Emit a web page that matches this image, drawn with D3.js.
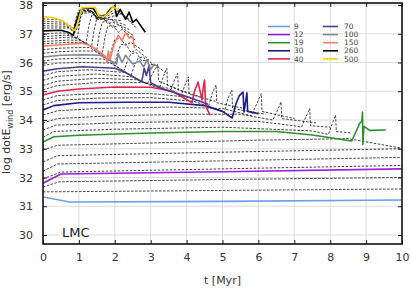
<!DOCTYPE html>
<html>
<head>
<meta charset="utf-8">
<script src="https://cdn.jsdelivr.net/npm/d3@7"></script>
<style>
  html, body { margin: 0; padding: 0; background: #fff; }
  svg { display: block; font-family: "DejaVu Sans", sans-serif; }
</style>
</head>
<body>
<script>
const W = 411, H = 288;
const FRAME = { left: 43, right: 402, top: 3, bottom: 244 };

const xTicks = [0, 1, 2, 3, 4, 5, 6, 7, 8, 9, 10];
const yTicks = [30, 31, 32, 33, 34, 35, 36, 37, 38];

const legendMasses = [9, 12, 19, 30, 40, 70, 100, 150, 260, 500];
const legendColours = ["#6d9eea", "#9b1fdc", "#2f8f2f", "#1b1b8a", "#e0244e",
                       "#4a3f8e", "#7a8898", "#f47f66", "#000000", "#f5d000"];

// coloured tracks: [t (Myr), log dotE_wind]
const track9 = [[0,31.32],[0.75,31.15],[5,31.17],[10,31.22]];
const track12 = [[0,31.8],[0.5,32.12],[5,32.2],[10,32.3]];
const track19 = [[0,33.23],[0.3,33.42],[1,33.47],[3,33.55],[5,33.6],[6.5,33.6],[7.5,33.48],[8.6,33.27],
  [8.72,33.6],[8.82,33.88],[8.88,33.95],[8.9,34.28],[8.91,33.15],[8.94,33.78],[9.1,33.64],[9.55,33.65]];
const track30 = [[0,34.35],[0.3,34.5],[1,34.6],[2.4,34.62],[3.5,34.62],[4.5,34.5],[5.0,34.3],[5.27,34.07],
  [5.37,34.55],[5.47,34.85],[5.57,34.97],[5.6,34.28],[5.68,34.95],[5.7,34.3],[6.0,34.22]];
const track40 = [[0,34.87],[0.4,35.0],[1,35.08],[2,35.15],[3,35.14],[3.6,35.0],[4.15,34.6],[4.22,35.0],
  [4.32,35.32],[4.43,34.7],[4.46,35.1],[4.5,35.39],[4.53,34.5],[4.65,34.17]];
const track70 = [[0,35.7],[0.4,35.78],[1.1,35.85],[2.0,35.8],[2.3,35.65],[2.75,35.33],[2.82,35.8],[2.88,35.55],
  [2.95,35.88],[3.0,35.3],[3.3,35.1],[4.0,34.82],[4.6,34.55]];
const track100 = [[0,36.19],[0.5,36.25],[1.1,36.27],[1.6,36.25],[2.05,35.95],[2.1,36.3],[2.2,36.0],[2.3,36.25],
  [2.5,35.95],[2.7,36.05],[2.8,35.85],[2.9,36.1],[3.0,35.75],[3.1,35.95]];
const track150 = [[0,36.57],[0.5,36.62],[1.1,36.67],[1.35,36.57],[1.75,36.2],[1.78,36.0],[1.82,36.4],[1.87,36.1],
  [1.97,36.6],[2.1,36.95],[2.2,36.75],[2.3,37.05],[2.4,36.85],[2.5,36.9],[2.55,36.5]];
const track260 = [[0,37.1],[0.5,37.12],[0.7,37.05],[0.85,36.95],[0.9,37.3],[1.0,37.7],[1.1,37.9],[1.4,37.88],
  [1.55,37.6],[1.75,37.65],[1.9,37.9],[2.0,37.97],[2.05,37.6],[2.15,37.85],[2.3,37.5],[2.4,37.75],[2.5,37.4],[2.6,37.5],[2.85,37.05]];
const track500 = [[0,37.6],[0.3,37.55],[0.55,37.45],[0.88,37.12],[0.95,37.3],[1.08,37.9],[1.45,37.92],[1.55,37.62],
  [1.7,37.6],[1.85,37.75],[1.95,37.97],[2.05,37.85],[2.1,37.9]];
const colouredTracks = [track9, track12, track19, track30, track40, track70, track100, track150, track260, track500];

// the rest of the model grid (dashed)
const gridTracks = [
  [[0,31.5],[5,31.55],[10,31.6]],
  [[0,31.67],[0.45,31.85],[5,31.93],[10,32.0]],
  [[0,31.95],[0.5,32.19],[5,32.3],[10,32.42]],
  [[0,32.22],[0.4,32.47],[5,32.58],[10,32.7]],
  [[0,32.54],[0.4,32.76],[5,32.88],[10,33.0]],
  [[0,32.96],[0.4,33.12],[3,33.2],[6,33.3],[8.5,33.35],[10,33.02]],
  [[0,33.4],[0.3,33.6],[2,33.68],[5,33.75],[7.5,33.62],[7.95,33.5],[8.05,33.85],[8.15,34.17],[8.17,33.6],[8.6,33.55]],
  [[0,33.65],[0.35,33.82],[2,33.9],[4,33.95],[6,33.95],[7,33.8],[7.2,33.75],[7.32,34.1],[7.43,34.4],[7.45,33.8],[8,33.75]],
  [[0,33.9],[0.4,34.05],[2,34.15],[4,34.2],[5.5,34.2],[6.4,34.0],[6.5,34.25],[6.63,34.63],[6.65,34.05],[7.6,33.9]],
  [[0,34.17],[0.4,34.32],[1.5,34.4],[3.6,34.45],[5,34.4],[5.8,34.15],[5.95,34.55],[6.08,34.92],[6.1,34.3],[7.0,34.05]],
  [[0,34.52],[0.4,34.68],[1.5,34.76],[3,34.78],[4.2,34.65],[4.9,34.35],[5.05,34.25],[5.15,34.75],[5.26,35.04],[5.28,34.4],[6.2,34.2]],
  [[0,34.7],[0.4,34.85],[1.5,34.92],[3,34.92],[4,34.8],[4.5,34.6],[4.62,34.5],[4.72,34.95],[4.82,35.22],[4.84,34.6],[5.6,34.4]],
  [[0,35.05],[0.4,35.2],[1.5,35.3],[2.8,35.3],[3.5,35.1],[3.85,34.85],[3.95,35.2],[4.05,35.5],[4.07,34.9],[4.8,34.65]],
  [[0,35.2],[0.4,35.35],[1.5,35.45],[2.6,35.4],[3.2,35.15],[3.55,35.0],[3.65,35.35],[3.75,35.62],[3.77,35.05],[4.4,34.8]],
  [[0,35.38],[0.4,35.52],[1.5,35.6],[2.5,35.5],[3.0,35.2],[3.25,35.12],[3.35,35.5],[3.45,35.8],[3.47,35.2],[4.0,34.95]],
  [[0,35.55],[0.4,35.68],[1.3,35.75],[2.3,35.65],[2.9,35.25],[3.05,35.6],[3.2,35.95],[3.22,35.35],[3.7,35.1]],
  [[0,35.9],[0.4,35.98],[1.1,36.0],[1.9,35.98],[2.45,35.55],[2.55,35.9],[2.65,36.15],[2.8,36.2],[2.95,35.9],[3.1,35.95],[3.4,35.65]],
  [[0,36.05],[0.4,36.12],[1.0,36.15],[1.7,36.12],[2.25,35.7],[2.35,36.05],[2.45,36.3],[2.6,36.35],[2.75,36.05],[2.9,36.1],[3.2,35.8]],
  [[0,36.32],[0.5,36.38],[1.0,36.4],[1.45,36.4],[2.0,35.95],[2.08,36.35],[2.17,36.62],[2.3,36.65],[2.45,36.35],[2.6,36.45],[2.95,36.1]],
  [[0,36.45],[0.5,36.5],[1.0,36.52],[1.3,36.52],[1.85,36.1],[1.92,36.5],[2.0,36.8],[2.15,36.85],[2.3,36.6],[2.45,36.7],[2.8,36.4]],
  [[0,36.65],[0.7,36.7],[1.15,36.7],[1.65,36.3],[1.72,36.85],[1.8,37.25],[1.95,37.3],[2.1,37.05],[2.2,37.15],[2.6,36.75]],
  [[0,36.73],[0.7,36.78],[1.05,36.77],[1.5,36.45],[1.57,37.0],[1.65,37.4],[1.8,37.45],[1.95,37.2],[2.1,37.3],[2.5,36.95]],
  [[0,36.82],[0.6,36.87],[0.95,36.85],[1.35,36.55],[1.42,37.1],[1.5,37.55],[1.65,37.6],[1.8,37.35],[1.95,37.4],[2.4,37.15]],
  [[0,36.9],[0.6,36.95],[0.85,36.92],[1.2,36.66],[1.28,37.3],[1.38,37.72],[1.55,37.7],[1.7,37.45],[1.85,37.5],[2.3,37.3]],
  [[0,37.0],[0.5,37.03],[0.65,37.02],[0.95,36.83],[1.0,37.2],[1.05,37.6],[1.15,37.82],[1.35,37.78],[1.5,37.5],[1.6,37.55],[2.2,37.45]],
  [[0,37.2],[0.7,37.2],[0.82,37.1],[0.9,37.05],[1.0,37.35],[1.08,37.7],[1.4,37.75],[1.55,37.48],[1.7,37.52],[2.2,37.7],[2.6,37.2]],
  [[0,37.28],[0.65,37.26],[0.8,37.15],[0.88,37.1],[0.98,37.4],[1.06,37.75],[1.38,37.78],[1.52,37.5],[1.68,37.55],[2.1,37.8],[2.5,37.35]],
  [[0,37.36],[0.6,37.33],[0.78,37.2],[0.87,37.12],[0.96,37.45],[1.04,37.78],[1.35,37.8],[1.5,37.55],[1.65,37.58],[2.0,37.85],[2.4,37.5]],
  [[0,37.44],[0.55,37.4],[0.75,37.25],[0.86,37.15],[0.94,37.5],[1.02,37.8],[1.32,37.82],[1.48,37.55],[1.62,37.6]],
  [[0,37.52],[0.5,37.48],[0.75,37.28],[0.85,37.18],[0.92,37.55],[1.0,37.82],[1.3,37.85],[1.45,37.6],[1.6,37.65]]
];

const x = d3.scaleLinear().domain([0, 10]).range([FRAME.left, FRAME.right]);
const y = d3.scaleLinear().domain([30, 38]).range([235, 5]);

const svg = d3.select("body").append("svg").attr("width", W).attr("height", H);

svg.append("defs").append("clipPath").attr("id", "plot")
  .append("rect")
  .attr("x", FRAME.left).attr("y", FRAME.top)
  .attr("width", FRAME.right - FRAME.left).attr("height", FRAME.bottom - FRAME.top);

// grid
const grid = svg.append("g").attr("stroke", "#dcdcdc").attr("stroke-width", 1);
grid.selectAll(".gx").data(xTicks.slice(1, -1)).join("line")
  .attr("x1", d => x(d)).attr("x2", d => x(d))
  .attr("y1", FRAME.top).attr("y2", FRAME.bottom);
grid.selectAll(".gy").data(yTicks).join("line")
  .attr("x1", FRAME.left).attr("x2", FRAME.right)
  .attr("y1", d => y(d)).attr("y2", d => y(d));

const line = d3.line().x(d => x(d[0])).y(d => y(d[1]));
const plot = svg.append("g").attr("clip-path", "url(#plot)");

plot.append("g")
  .attr("fill", "none").attr("stroke", "#111").attr("stroke-width", 0.8)
  .attr("stroke-dasharray", "2.5,1.5")
  .selectAll("path").data(gridTracks).join("path")
  .attr("d", line);

plot.append("g")
  .attr("fill", "none").attr("stroke-width", 1.6).attr("stroke-linejoin", "round")
  .selectAll("path").data(colouredTracks).join("path")
  .attr("stroke", (d, i) => legendColours[i])
  .attr("d", line);

// axes: ticks inward on all four sides
const tickLen = 4;
svg.append("g").attr("transform", `translate(0,${FRAME.bottom})`)
  .call(d3.axisBottom(x).tickValues(xTicks).tickSize(-tickLen).tickPadding(9).tickFormat(d3.format("d")));
svg.append("g").attr("transform", `translate(0,${FRAME.top})`)
  .call(d3.axisTop(x).tickValues(xTicks).tickSize(-tickLen).tickFormat(""));
svg.append("g").attr("transform", `translate(${FRAME.left},0)`)
  .call(d3.axisLeft(y).tickValues(yTicks).tickSize(-tickLen).tickPadding(10).tickFormat(d3.format("d")));
svg.append("g").attr("transform", `translate(${FRAME.right},0)`)
  .call(d3.axisRight(y).tickValues(yTicks).tickSize(-tickLen).tickFormat(""));

svg.selectAll(".domain").remove();
svg.selectAll(".tick line").attr("stroke", "#222").attr("stroke-width", 1);
svg.selectAll(".tick text").attr("font-size", 11).attr("fill", "#333")
  .attr("font-family", "DejaVu Sans, sans-serif");

svg.append("rect")
  .attr("x", FRAME.left).attr("y", FRAME.top)
  .attr("width", FRAME.right - FRAME.left).attr("height", FRAME.bottom - FRAME.top)
  .attr("fill", "none").attr("stroke", "#111").attr("stroke-width", 1.6);

// legend
const legend = svg.append("g").attr("font-size", 7.5).attr("fill", "#444");
const rows = legendMasses.map((m, i) => ({ m, c: legendColours[i], col: Math.floor(i / 5), row: i % 5 }));
const legX = [[268, 290, 294], [323, 338, 344]];
const leg = legend.selectAll("g").data(rows).join("g")
  .attr("transform", d => `translate(0,${26.5 + d.row * 8.1})`);
leg.append("line")
  .attr("x1", d => legX[d.col][0]).attr("x2", d => legX[d.col][1])
  .attr("stroke", d => d.c).attr("stroke-width", 1.6);
leg.append("text")
  .attr("x", d => legX[d.col][2]).attr("dy", "0.35em")
  .text(d => d.m);

// labels
svg.append("text").attr("x", 62).attr("y", 237).attr("font-size", 13).attr("fill", "#222").text("LMC");

svg.append("text").attr("x", (FRAME.left + FRAME.right) / 2).attr("y", 284)
  .attr("text-anchor", "middle").attr("font-size", 11).attr("fill", "#333").text("t [Myr]");

const yt = svg.append("text")
  .attr("transform", "translate(10,122) rotate(-90)")
  .attr("text-anchor", "middle").attr("font-size", 11).attr("fill", "#333");
yt.append("tspan").text("log dotE");
yt.append("tspan").attr("font-size", 8).attr("dy", 3).text("wind");
yt.append("tspan").attr("dy", -3).text(" [erg/s]");
</script>
</body>
</html>
